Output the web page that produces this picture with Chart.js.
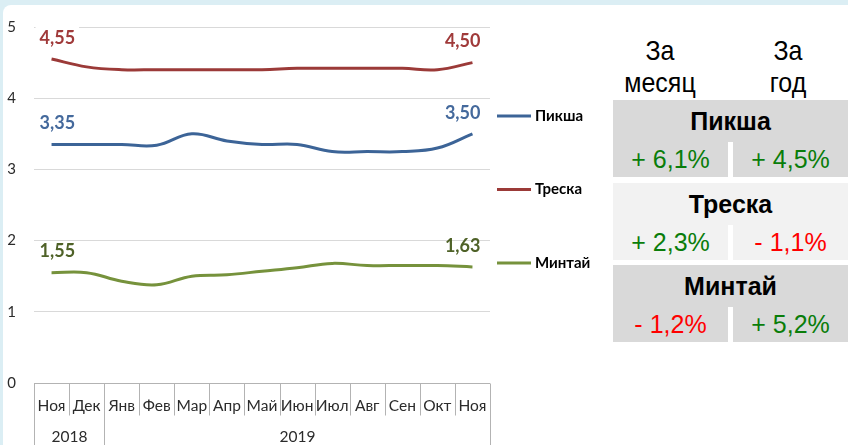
<!DOCTYPE html>
<html>
<head>
<meta charset="utf-8">
<script src="https://cdn.jsdelivr.net/npm/chart.js@4"></script>
<style>
  html, body { margin: 0; padding: 0; }
  body { width: 848px; height: 445px; background: #dbeef4; position: relative; overflow: hidden;
         font-family: "Liberation Sans", Arial, sans-serif; }
  #panel { position: absolute; left: 3px; top: 5px; right: 0; bottom: 0; background: #fff; border-top-left-radius: 8px; }
  #chart { position: absolute; left: 0; top: 0; }
  .head { position: absolute; top: 34px; width: 120px; text-align: center; font-size: 25px; line-height: 29px; color: #000;
          transform: scaleY(1.12); transform-origin: 50% 0; }
  .block { position: absolute; left: 613px; width: 235px; height: 77px; }
  .block .name { height: 42px; line-height: 42px; text-align: center; font-weight: bold; font-size: 25px; color: #000; }
  .block .cell { position: absolute; top: 42px; width: 115px; height: 35px; line-height: 35px; text-align: center; font-size: 25px; }
  .block .gap { position: absolute; top: 42px; left: 115px; width: 5px; height: 35px; background: #fff; }
</style>
</head>
<body>
<div id="panel"></div>
<canvas id="chart" width="600" height="445"></canvas>
<div class="head" style="left:600px">За<br>месяц</div>
<div class="head" style="left:728px">За<br>год</div>
<div id="table"></div>

<script>
const months = ['Ноя', 'Дек', 'Янв', 'Фев', 'Мар', 'Апр', 'Май', 'Июн', 'Июл', 'Авг', 'Сен', 'Окт', 'Ноя'];
const years = ['2018', '2019'];
const yearSpans = [2, 11];

const pikshaPrices = [3.35, 3.35, 3.35, 3.34, 3.50, 3.40, 3.35, 3.35, 3.25, 3.25, 3.25, 3.30, 3.50];
const treskaPrices = [4.55, 4.44, 4.40, 4.40, 4.40, 4.40, 4.40, 4.42, 4.42, 4.42, 4.42, 4.40, 4.50];
const mintaiPrices = [1.55, 1.55, 1.43, 1.38, 1.50, 1.52, 1.57, 1.62, 1.68, 1.65, 1.65, 1.65, 1.63];

const fishNames = ['Пикша', 'Треска', 'Минтай'];
const monthChange = [6.1, 2.3, -1.2];
const yearChange = [4.5, -1.1, 5.2];

const fmt = v => v.toFixed(2).replace('.', ',');
const fmtPct = v => (v < 0 ? '- ' : '+ ') + Math.abs(v).toFixed(1).replace('.', ',') + '%';

// нижняя ось: месяцы + годы в виде таблицы
const axisTable = {
  id: 'axisTable',
  afterDraw(chart) {
    const { ctx, chartArea } = chart;
    const x = chart.scales.x;
    const top = Math.round(chart.scales.y.getPixelForValue(0)) + 0.5;
    const half = (x.getPixelForValue(1) - x.getPixelForValue(0)) / 2;
    const edge = i => Math.round(x.getPixelForValue(i) - half) + 0.5;
    const yearEdges = [0];
    yearSpans.forEach(s => yearEdges.push(yearEdges[yearEdges.length - 1] + s));

    ctx.save();
    ctx.strokeStyle = '#b3b3b3';
    ctx.lineWidth = 1;
    ctx.beginPath();
    ctx.moveTo(chartArea.left, top);
    ctx.lineTo(chartArea.right, top);
    for (let i = 0; i <= months.length; i++) {
      const e = edge(i);
      ctx.moveTo(e, top);
      ctx.lineTo(e, yearEdges.includes(i) ? chart.height : top + 32);
    }
    ctx.stroke();

    ctx.fillStyle = '#2b2b2b';
    ctx.font = '15.5px Lato';
    ctx.textAlign = 'center';
    ctx.textBaseline = 'middle';
    months.forEach((m, i) => ctx.fillText(m, x.getPixelForValue(i), top + 22));
    years.forEach((y, i) => {
      const cx = (edge(yearEdges[i]) + edge(yearEdges[i + 1])) / 2;
      ctx.fillText(y, cx, top + 53);
    });
    ctx.restore();
  }
};

// легенда справа от графика
const sideLegend = {
  id: 'sideLegend',
  afterDraw(chart) {
    const { ctx } = chart;
    ctx.save();
    ctx.font = 'bold 15px Lato';
    ctx.textBaseline = 'middle';
    chart.data.datasets.forEach((ds, i) => {
      const y = 116 + i * 73.5;
      ctx.strokeStyle = ds.borderColor;
      ctx.lineWidth = 3;
      ctx.beginPath();
      ctx.moveTo(497, y);
      ctx.lineTo(531, y);
      ctx.stroke();
      ctx.fillStyle = '#000';
      ctx.fillText(ds.label, 535, y);
    });
    ctx.restore();
  }
};

// подписи первой и последней точки
const endLabels = {
  id: 'endLabels',
  afterDatasetsDraw(chart) {
    const { ctx } = chart;
    ctx.save();
    ctx.font = 'bold 18px Lato';
    ctx.textBaseline = 'middle';
    chart.data.datasets.forEach((ds, di) => {
      const pts = chart.getDatasetMeta(di).data;
      [0, pts.length - 1].forEach(idx => {
        const p = pts[idx];
        const text = fmt(ds.data[idx]);
        const w = ctx.measureText(text).width;
        const left = idx === 0 ? p.x - 12 : p.x + 8 - w;
        const cy = p.y - 21;
        if (ds.labelBg) {
          ctx.fillStyle = ds.labelBg;
          ctx.fillRect(left - 4, cy - 12, w + 8, 22);
        }
        ctx.fillStyle = ds.labelColor;
        ctx.textAlign = 'left';
        ctx.fillText(text, left, cy);
      });
    });
    ctx.restore();
  }
};

new Chart(document.getElementById('chart'), {
  type: 'line',
  data: {
    labels: months,
    datasets: [
      { label: 'Пикша', data: pikshaPrices, borderColor: '#3c6497', labelColor: '#44699c' },
      { label: 'Треска', data: treskaPrices, borderColor: '#9b3a38', labelColor: '#a03a3a', labelBg: '#fff' },
      { label: 'Минтай', data: mintaiPrices, borderColor: '#76923c', labelColor: '#4f6228' }
    ]
  },
  options: {
    responsive: false,
    animation: false,
    layout: { padding: { left: 4, right: 110, top: 26, bottom: 62 } },
    elements: {
      line: { borderWidth: 3, tension: 0.4 },
      point: { radius: 0 }
    },
    plugins: { legend: { display: false }, tooltip: { enabled: false } },
    scales: {
      x: { type: 'category', offset: true, display: false },
      y: {
        min: 0, max: 5,
        afterFit: s => { s.width = 30; },
        ticks: { stepSize: 1, padding: 18, color: '#2b2b2b', font: { family: 'Lato', size: 15 } },
        grid: { color: '#d9d9d9', drawTicks: false },
        border: { display: false }
      }
    }
  },
  plugins: [axisTable, endLabels, sideLegend]
});

// таблица изменений цен
const table = document.getElementById('table');
fishNames.forEach((name, i) => {
  const block = document.createElement('div');
  block.className = 'block';
  block.style.top = (100 + i * 82.5) + 'px';
  block.style.background = i === 1 ? '#f2f2f2' : '#d9d9d9';
  const color = v => v < 0 ? '#ff0000' : '#0a7d0a';
  block.innerHTML =
    `<div class="name">${name}</div>` +
    `<div class="cell" style="left:0;color:${color(monthChange[i])}">${fmtPct(monthChange[i])}</div>` +
    `<div class="gap"></div>` +
    `<div class="cell" style="left:120px;color:${color(yearChange[i])}">${fmtPct(yearChange[i])}</div>`;
  table.appendChild(block);
});
</script>
</body>
</html>
